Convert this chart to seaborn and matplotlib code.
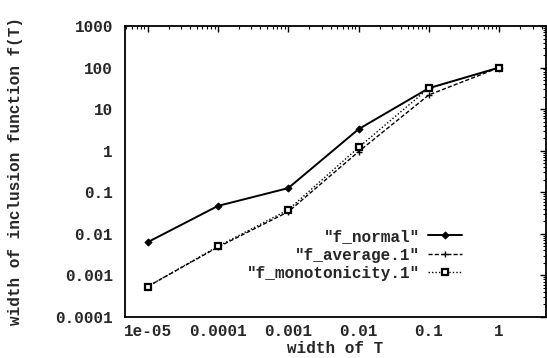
import numpy as np
import pandas as pd
import matplotlib
matplotlib.use("Agg")
import matplotlib.pyplot as plt
import matplotlib.ticker as mticker
import seaborn as sns

# valores
larguras = [1e-5, 1e-4, 1e-3, 1e-2, 1e-1, 1]
f_normal = [0.0063, 0.047, 0.126, 3.3, 32, 100]
f_average = [0.00054, 0.0048, 0.034, 0.95, 22, 100]
f_monotonicity = [0.00054, 0.0050, 0.038, 1.2, 32, 100]

xticks = [1e-5, 1e-4, 1e-3, 1e-2, 1e-1, 1]
xticklabels = ["1e-05", "0.0001", "0.001", "0.01", "0.1", "1"]
yticks = [1e-4, 1e-3, 1e-2, 1e-1, 1, 10, 100, 1000]
yticklabels = ["0.0001", "0.001", "0.01", "0.1", "1", "10", "100", "1000"]

sns.set_style("white")
plt.rcParams["font.family"] = ["Liberation Mono", "DejaVu Sans Mono"]
plt.rcParams["font.weight"] = "bold"
plt.rcParams["font.size"] = 11.5

fig = plt.figure(figsize=(5.47, 3.58), dpi=100)
ax = fig.add_axes([0.2294, 0.1145, 0.768, 0.8129])

df = pd.DataFrame({"T": larguras, "normal": f_normal,
                   "average": f_average, "mono": f_monotonicity})

sns.lineplot(data=df, x="T", y="normal", ax=ax, color="black", lw=1.4,
             marker="D", markersize=3.5, mec="black", mfc="black", mew=0.8,
             label='"f_normal"')
sns.lineplot(data=df, x="T", y="average", ax=ax, color="black", lw=1.0,
             marker="+", markersize=5, mec="black", mew=1.0,
             dashes=(3, 1.5), label='"f_average.1"')
sns.lineplot(data=df, x="T", y="mono", ax=ax, color="black", lw=1.0,
             marker="s", markersize=4, mec="black", mfc="white", mew=1.6,
             dashes=(1, 1.5), label='"f_monotonicity.1"')

ax.set_xscale("log")
ax.set_yscale("log")
ax.set_xlim(10 ** -5.315, 10 ** 0.66)
ax.set_ylim(1e-4, 1e3)

ax.xaxis.set_major_locator(mticker.FixedLocator(xticks))
ax.xaxis.set_major_formatter(mticker.FixedFormatter(xticklabels))
ax.yaxis.set_major_locator(mticker.FixedLocator(yticks))
ax.yaxis.set_major_formatter(mticker.FixedFormatter(yticklabels))
ax.xaxis.set_minor_locator(mticker.LogLocator(base=10, subs=np.arange(2, 10), numticks=20))
ax.yaxis.set_minor_locator(mticker.LogLocator(base=10, subs=np.arange(2, 10), numticks=20))
ax.xaxis.set_minor_formatter(mticker.NullFormatter())
ax.yaxis.set_minor_formatter(mticker.NullFormatter())

ax.tick_params(which="both", direction="in", top=True, right=True, color="black")
ax.tick_params(which="major", length=4.5, width=1.0)
ax.tick_params(which="minor", length=2.2, width=0.8)
ax.tick_params(axis="y", which="major", pad=9)
ax.tick_params(axis="x", which="major", pad=5)

for s in ax.spines.values():
    s.set_color("black")
    s.set_linewidth(1.3)

ax.set_xlabel("width of T", fontweight="bold", labelpad=0)
ax.set_ylabel("width of inclusion function f(T)", fontweight="bold")
ax.yaxis.set_label_coords(-0.245, 0.5)
ax.xaxis.set_label_coords(0.5, -0.083)

leg = ax.legend(loc="upper right", bbox_to_anchor=(462 / 547, 1 - 229 / 358),
                bbox_transform=fig.transFigure, frameon=False, markerfirst=False,
                handlelength=2.1, handletextpad=0.5, labelspacing=0.22,
                borderpad=0, borderaxespad=0, prop={"weight": "bold", "size": 11.5})

fig.savefig("out.png", dpi=100)
